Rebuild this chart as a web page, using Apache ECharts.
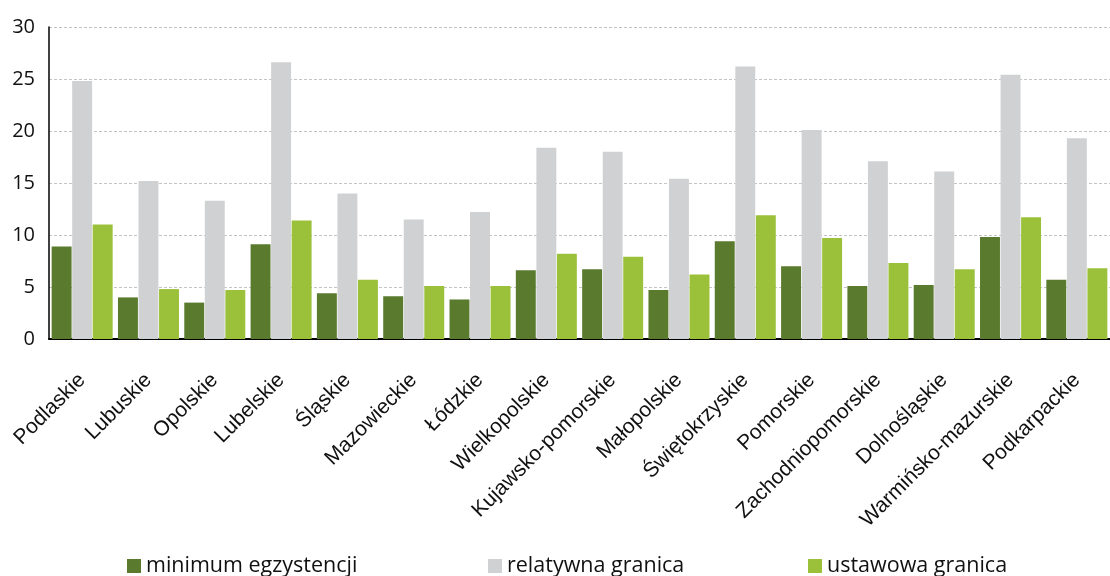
<!DOCTYPE html>
<html><head><meta charset="utf-8">
<script src="https://cdn.jsdelivr.net/npm/echarts@6/dist/echarts.min.js"></script>
<style>html,body{margin:0;padding:0;background:#fff}#c{width:1110px;height:576px}</style>
</head><body><div id="c"></div>
<script>
const categories = ['Podlaskie','Lubuskie','Opolskie','Lubelskie','Śląskie','Mazowieckie','Łódzkie','Wielkopolskie','Kujawsko-pomorskie','Małopolskie','Świętokrzyskie','Pomorskie','Zachodniopomorskie','Dolnośląskie','Warmińsko-mazurskie','Podkarpackie'];
const minimumEgzystencji = [8.9,4.0,3.5,9.1,4.4,4.1,3.8,6.6,6.7,4.7,9.4,7.0,5.1,5.2,9.8,5.7];
const relatywnaGranica = [24.8,15.2,13.3,26.6,14.0,11.5,12.2,18.4,18.0,15.4,26.2,20.1,17.1,16.1,25.4,19.3];
const ustawowaGranica = [11.0,4.8,4.7,11.4,5.7,5.1,5.1,8.2,7.9,6.2,11.9,9.7,7.3,6.7,11.7,6.8];
const seriesNames = ['minimum egzystencji','relatywna granica','ustawowa granica'];
const colors = ['#5a7a2e','#d0d1d3','#9bc13b'];

const chart = echarts.init(document.getElementById('c'), null, {renderer:'canvas'});
const legendBase = {
  top: 555, itemWidth: 14, itemHeight: 14, icon: 'rect', selectedMode: false, padding: 0,
  textStyle: {fontFamily: 'Open Sans', fontSize: 21.5, color: '#111'}
};
chart.setOption({
  animation: false,
  color: colors,
  grid: {left: 49, right: 0, top: 27, bottom: 237, containLabel: false},
  legend: [
    Object.assign({left: 127, data: [seriesNames[0]]}, legendBase),
    Object.assign({left: 488, data: [seriesNames[1]]}, legendBase),
    Object.assign({left: 808, data: [seriesNames[2]]}, legendBase)
  ],
  xAxis: {
    type: 'category', data: categories,
    axisLine: {lineStyle: {color: '#000', width: 2}},
    axisTick: {show: false},
    axisLabel: {rotate: 45, interval: 0, fontFamily: 'Liberation Sans', fontSize: 21, color: '#111', margin: 38}
  },
  yAxis: {
    type: 'value', min: 0, max: 30, interval: 5,
    axisLine: {show: true, lineStyle: {color: '#000', width: 1.5}},
    axisTick: {show: false},
    axisLabel: {fontFamily: 'Open Sans', fontSize: 20, color: '#111', margin: 14},
    splitLine: {lineStyle: {color: '#c4c4c4', type: [3,2], width: 1}}
  },
  series: [
    {name: seriesNames[0], type: 'bar', data: minimumEgzystencji, barGap: '3%', barCategoryGap: '8%'},
    {name: seriesNames[1], type: 'bar', data: relatywnaGranica, barGap: '3%', barCategoryGap: '8%'},
    {name: seriesNames[2], type: 'bar', data: ustawowaGranica, barGap: '3%', barCategoryGap: '8%'}
  ]
});
</script></body></html>
